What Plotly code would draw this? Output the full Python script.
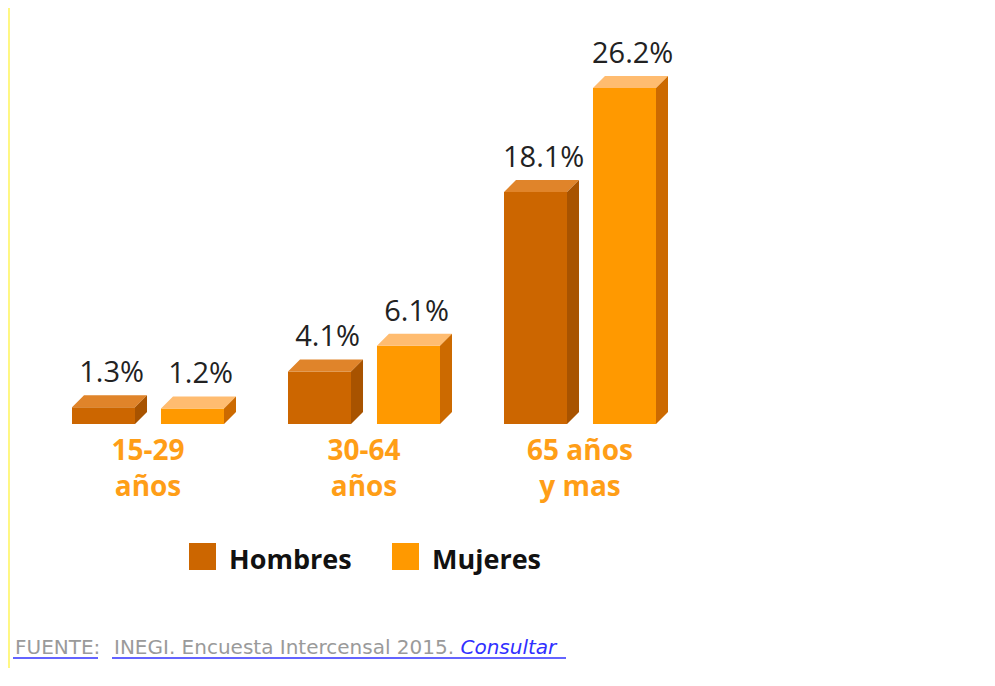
import plotly.graph_objects as go

# datos: porcentaje por grupo de edad y sexo
categorias = ["15-29<br>años", "30-64<br>años", "65 años<br>y mas"]
series = ["Hombres", "Mujeres"]
hombres = [1.3, 4.1, 18.1]
mujeres = [1.2, 6.1, 26.2]

# tamaño de la figura (el body del html tiene 8px de margen)
W, H = 979, 660
base_y = 416          # px de la linea base
px_unit_x = 216       # px por categoria
px_unit_y = 12.82     # px por punto porcentual
x0_px = 140           # px de la primera categoria

# colores: frente, tapa, lado
col_h = ("#CC6600", "#E0842A", "#A85300")
col_m = ("#FF9900", "#FFBC70", "#CC6A00")

slot = 0.412
bar_w = 0.2917
dx = 12 / px_unit_x   # profundidad 3D en unidades de datos
dy = 12 / px_unit_y
gap = 6 / px_unit_y   # separacion extra de la etiqueta


def px(x):
    return x / W


def py(y):
    return 1 - y / H


fig = go.Figure()


def add_serie(vals, offset, cols, name):
    xs = [i + offset for i in range(len(vals))]
    # cara frontal
    fig.add_trace(go.Bar(x=xs, y=vals, width=bar_w, marker=dict(color=cols[0], line=dict(width=0)),
                         name=name, showlegend=False, hoverinfo="skip"))
    # tapa y lado
    tx, ty, sx, sy = [], [], [], []
    for x, v in zip(xs, vals):
        l, r = x - bar_w / 2, x + bar_w / 2
        tx += [l, r, r + dx, l + dx, l, None]
        ty += [v, v, v + dy, v + dy, v, None]
        sx += [r, r + dx, r + dx, r, r, None]
        sy += [0, dy, v + dy, v, 0, None]
    fig.add_trace(go.Scatter(x=tx, y=ty, fill="toself", fillcolor=cols[1], mode="lines",
                             line=dict(width=0, color=cols[1]), showlegend=False, hoverinfo="skip"))
    fig.add_trace(go.Scatter(x=sx, y=sy, fill="toself", fillcolor=cols[2], mode="lines",
                             line=dict(width=0, color=cols[2]), showlegend=False, hoverinfo="skip"))
    # etiquetas
    fig.add_trace(go.Scatter(x=[x + dx / 2 + 0.01 for x in xs], y=[v + dy + gap for v in vals],
                             mode="text", text=[f"{v:.1f}%" for v in vals], textposition="top center",
                             textfont=dict(family="Open Sans", size=29, color="#222222"),
                             showlegend=False, hoverinfo="skip"))


add_serie(hombres, -slot / 2, col_h, series[0])
add_serie(mujeres, slot / 2, col_m, series[1])

fig.update_layout(
    width=W, height=H,
    margin=dict(l=0, r=0, t=0, b=0),
    paper_bgcolor="white", plot_bgcolor="white",
    barmode="overlay",
    xaxis=dict(range=[-x0_px / px_unit_x, (W - x0_px) / px_unit_x], domain=[0, 1],
               tickvals=[0, 1, 2], ticktext=categorias, showgrid=False, zeroline=False,
               showline=False, ticks="", ticklabelstandoff=7,
               tickfont=dict(family="Open Sans", size=28, color="#FF9E17", weight="bold")),
    yaxis=dict(range=[0, base_y / px_unit_y], domain=[1 - base_y / H, 1],
               visible=False, showgrid=False, zeroline=False),
    showlegend=False,
)

# leyenda dibujada a mano (cuadros grandes)
leg = [(181, 219, col_h[0]), (384, 422, col_m[0])]
for (sq, tx, c), name in zip(leg, series):
    fig.add_shape(type="rect", xref="paper", yref="paper", x0=px(sq), x1=px(sq + 27),
                  y0=py(535), y1=py(562), fillcolor=c, line=dict(width=0))
    fig.add_annotation(x=px(tx), y=py(550), xref="paper", yref="paper", text=name,
                       showarrow=False, xanchor="left", yanchor="middle",
                       font=dict(family="Open Sans", size=27, color="#111111", weight="bold"))

# fuente
fig.add_annotation(x=px(5), y=py(639), xref="paper", yref="paper", text="FUENTE:",
                   showarrow=False, xanchor="left", yanchor="middle",
                   font=dict(family="DejaVu Sans", size=20, color="#9A9A9A"))
fig.add_annotation(x=px(104), y=py(639), xref="paper", yref="paper",
                   text="INEGI. Encuesta Intercensal 2015. <span style='color:#3030FF'><i>Consultar</i></span>",
                   showarrow=False, xanchor="left", yanchor="middle",
                   font=dict(family="DejaVu Sans", size=20, color="#9A9A9A"))
for a, b in [(5, 90), (104, 558)]:
    fig.add_shape(type="line", xref="paper", yref="paper", x0=px(a), x1=px(b),
                  y0=py(650), y1=py(650), line=dict(color="#3030FF", width=1.5))

# linea amarilla del borde
fig.add_shape(type="line", xref="paper", yref="paper", x0=px(1), x1=px(1), y0=0, y1=1,
              line=dict(color="#FFF45A", width=1.5))

fig.write_html("out.html")
